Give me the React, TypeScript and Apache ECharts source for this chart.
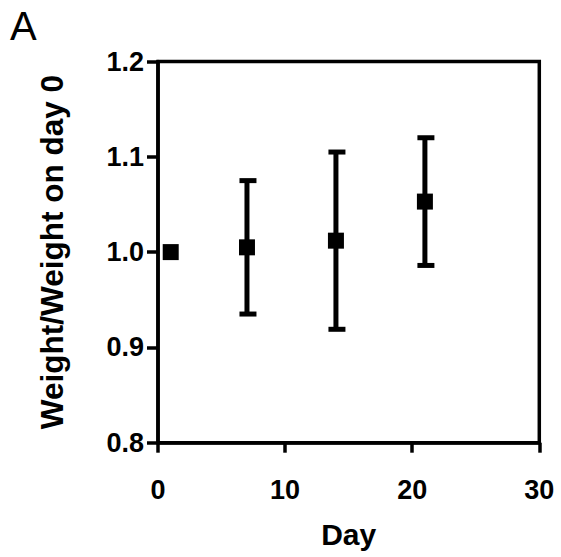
import React, { useEffect, useRef } from "react";
import * as echarts from "echarts";

const days = [1, 7, 14, 21];
const means = [1.0, 1.005, 1.012, 1.053];
const lowerBounds = [null, 0.935, 0.919, 0.986];
const upperBounds = [null, 1.075, 1.105, 1.12];
const xTicks = [0, 10, 20, 30];
const yTicks = [0.8, 0.9, 1.0, 1.1, 1.2];

const FONT = "'Liberation Sans', Arial, Helvetica, sans-serif";

export default function App() {
  const ref = useRef<HTMLDivElement>(null);
  useEffect(() => {
    if (!ref.current) return;
    const chart = echarts.init(ref.current, null, { renderer: "svg" });
    const errData = days
      .map((d, i) => [d, lowerBounds[i], upperBounds[i]])
      .filter((r) => r[1] !== null && r[2] !== null);
    chart.setOption({
      animation: false,
      backgroundColor: "#ffffff",
      grid: {
        left: 158,
        right: 21.7,
        top: 61.5,
        bottom: 114.3,
        show: true,
        borderColor: "#000",
        borderWidth: 3.5,
        backgroundColor: "transparent",
      },
      graphic: [
        {
          type: "text",
          left: 10,
          top: 6,
          style: {
            text: "A",
            fontFamily: FONT,
            fontSize: 40,
            fill: "#000",
          },
        },
      ],
      xAxis: {
        type: "value",
        min: xTicks[0],
        max: xTicks[xTicks.length - 1],
        interval: 10,
        name: "Day",
        nameLocation: "middle",
        nameGap: 77,
        nameTextStyle: { fontFamily: FONT, fontSize: 30, fontWeight: "bold", color: "#000" },
        axisLine: { show: true, lineStyle: { color: "#000", width: 3.5 } },
        axisTick: { show: true, inside: false, length: 10, lineStyle: { color: "#000", width: 3.5 } },
        axisLabel: {
          margin: 34,
          fontFamily: FONT,
          fontSize: 27,
          fontWeight: "bold",
          color: "#000",
          formatter: (v: number) => String(v),
        },
        splitLine: { show: false },
      },
      yAxis: {
        type: "value",
        min: yTicks[0],
        max: yTicks[yTicks.length - 1],
        interval: 0.1,
        name: "Weight/Weight on day 0",
        nameLocation: "middle",
        nameGap: 90,
        nameTextStyle: { fontFamily: FONT, fontSize: 31.5, fontWeight: "bold", color: "#000" },
        axisLine: { show: true, lineStyle: { color: "#000", width: 3.5 } },
        axisTick: { show: true, inside: false, length: 11, lineStyle: { color: "#000", width: 3.5 } },
        axisLabel: {
          margin: 14,
          fontFamily: FONT,
          fontSize: 27,
          fontWeight: "bold",
          color: "#000",
          formatter: (v: number) => v.toFixed(1),
        },
        splitLine: { show: false },
      },
      series: [
        {
          type: "custom",
          z: 2,
          data: errData,
          renderItem: (params: any, api: any) => {
            const x = api.value(0);
            const lo = api.coord([x, api.value(1)]);
            const hi = api.coord([x, api.value(2)]);
            const cx = lo[0];
            const style = { stroke: "#000", lineWidth: 5 };
            return {
              type: "group",
              children: [
                { type: "line", shape: { x1: cx, y1: lo[1], x2: cx, y2: hi[1] }, style },
                { type: "line", shape: { x1: cx - 7.5, y1: lo[1], x2: cx + 9.5, y2: lo[1] }, style },
                { type: "line", shape: { x1: cx - 7.5, y1: hi[1], x2: cx + 9.5, y2: hi[1] }, style },
              ],
            };
          },
        },
        {
          type: "scatter",
          z: 3,
          symbol: "rect",
          symbolSize: 16,
          itemStyle: { color: "#000", opacity: 1 },
          emphasis: { disabled: true },
          data: days.map((d, i) => [d, means[i]]),
        },
      ],
    });
    return () => chart.dispose();
  }, []);
  return (
    <div
      ref={ref}
      style={{ position: "fixed", left: 0, top: 0, width: 561, height: 557, background: "#fff" }}
    />
  );
}
